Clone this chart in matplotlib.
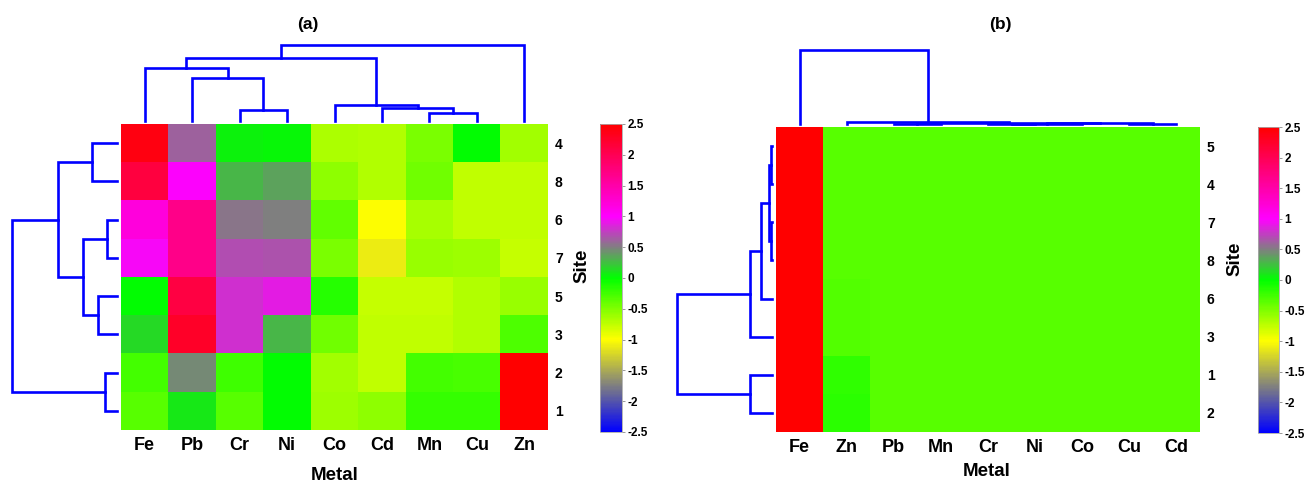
import numpy as np
import matplotlib
matplotlib.use("Agg")
import matplotlib.pyplot as plt
from matplotlib.colors import LinearSegmentedColormap

plt.rcParams['font.family'] = ['Liberation Sans', 'DejaVu Sans']
plt.rcParams['font.weight'] = 'bold'

# ---------------- data ----------------
metals_a = ["Fe", "Pb", "Cr", "Ni", "Co", "Cd", "Mn", "Cu", "Zn"]
sites_a = ["4", "8", "6", "7", "5", "3", "2", "1"]
values_a = [
    [2.40, 0.62, 0.04, 0.03, -0.67, -0.70, -0.47, 0.00, -0.63],
    [2.12, 0.98, 0.28, 0.37, -0.55, -0.69, -0.43, -0.76, -0.76],
    [1.21, 1.68, 0.53, 0.49, -0.39, -1.00, -0.65, -0.75, -0.75],
    [0.96, 1.68, 0.69, 0.67, -0.47, -1.10, -0.59, -0.61, -0.78],
    [0.00, 2.09, 0.82, 0.88, -0.15, -0.78, -0.78, -0.70, -0.59],
    [0.14, 2.26, 0.82, 0.29, -0.43, -0.76, -0.76, -0.69, -0.31],
    [-0.27, 0.45, -0.24, 0.00, -0.63, -0.75, -0.27, -0.29, 2.50],
    [-0.35, 0.08, -0.35, 0.00, -0.61, -0.55, -0.20, -0.20, 2.50],
]

metals_b = ["Fe", "Zn", "Pb", "Mn", "Cr", "Ni", "Co", "Cu", "Cd"]
sites_b = ["5", "4", "7", "8", "6", "3", "1", "2"]
values_b = [
    [2.50, -0.35, -0.35, -0.35, -0.35, -0.35, -0.35, -0.35, -0.35],
    [2.50, -0.35, -0.35, -0.35, -0.35, -0.35, -0.35, -0.35, -0.35],
    [2.50, -0.35, -0.35, -0.35, -0.35, -0.35, -0.35, -0.35, -0.35],
    [2.50, -0.34, -0.34, -0.35, -0.35, -0.35, -0.35, -0.35, -0.35],
    [2.50, -0.32, -0.34, -0.35, -0.35, -0.35, -0.35, -0.35, -0.35],
    [2.50, -0.32, -0.35, -0.35, -0.35, -0.35, -0.35, -0.35, -0.35],
    [2.50, -0.18, -0.35, -0.35, -0.35, -0.35, -0.35, -0.35, -0.35],
    [2.50, -0.17, -0.35, -0.35, -0.35, -0.35, -0.35, -0.35, -0.35],
]

# dendrogram merges: (child_a, child_b, height); new cluster id = n_leaves + index
col_merges_a = [(6, 7, 8.4), (2, 3, 10.8), (5, 9, 13.5), (4, 11, 15.8),
                (1, 10, 42.7), (0, 13, 52.8), (14, 12, 62.9), (15, 8, 76.0)]
row_merges_a = [(2, 3, 10.4), (6, 7, 12.5), (4, 5, 19.3), (0, 1, 25.0),
                (8, 10, 33.6), (11, 12, 58.6), (13, 9, 105.0)]
col_merges_b = [(4, 5, 0.3), (7, 8, 0.3), (9, 6, 0.5), (2, 3, 0.4),
                (11, 10, 0.6), (12, 13, 0.8), (1, 14, 1.8), (0, 15, 74.0)]
row_merges_b = [(0, 1, 0.8), (2, 3, 1.2), (8, 9, 3.5), (10, 4, 11.0),
                (11, 5, 22.0), (6, 7, 22.0), (12, 13, 95.0)]

cbar_ticks = [-2.5, -2, -1.5, -1, -0.5, 0, 0.5, 1, 1.5, 2, 2.5]

# ---------------- figure ----------------
W, H = 1308, 484
fig = plt.figure(figsize=(W / 100, H / 100), dpi=100)

def ax_px(x0, y0, x1, y1):
    return fig.add_axes([x0 / W, 1 - y1 / H, (x1 - x0) / W, (y1 - y0) / H])

cmap = LinearSegmentedColormap.from_list(
    "clust", [(0.0, "#0000ff"), (0.3, "#ffff00"), (0.5, "#00ff00"),
              (0.7, "#ff00ff"), (1.0, "#ff0000")])

DCOL = "#0000ff"
LW = 1.9

def draw_dendro(ax, merges, n, orient, hmax):
    pos = {i: i + 0.5 for i in range(n)}
    hgt = {i: 0.0 for i in range(n)}
    for k, (a, b, h) in enumerate(merges):
        xa, xb = pos[a], pos[b]
        if orient == "top":
            ax.plot([xa, xa, xb, xb], [hgt[a], h, h, hgt[b]], color=DCOL,
                    lw=LW, clip_on=False, solid_joinstyle='miter')
        else:
            ax.plot([hgt[a], h, h, hgt[b]], [xa, xa, xb, xb], color=DCOL,
                    lw=LW, clip_on=False, solid_joinstyle='miter')
        pos[n + k] = (xa + xb) / 2
        hgt[n + k] = h
    if orient == "top":
        ax.set_xlim(0, n)
        ax.set_ylim(0, hmax)
    else:
        ax.set_ylim(n, 0)
        ax.set_xlim(hmax, 0)
    ax.axis("off")

def panel(values, metals, sites, col_merges, row_merges, hm, top, left, cb,
          title, title_xy, site_xy, metal_xy):
    data = np.array(values)
    nr, nc = data.shape
    ax = ax_px(*hm)
    im = ax.imshow(data, cmap=cmap, vmin=-2.5, vmax=2.5, aspect="auto",
                   interpolation="nearest", extent=(0, nc, nr, 0))
    ax.set_xticks(np.arange(nc) + 0.5, metals, fontsize=13, fontweight="bold")
    ax.yaxis.tick_right()
    ax.set_yticks(np.arange(nr) + 0.5, sites, fontsize=10, fontweight="bold")
    ax.tick_params(axis="x", length=0, pad=5)
    ax.tick_params(axis="y", length=0, pad=5)
    for s in ax.spines.values():
        s.set_visible(False)

    axt = ax_px(*top)
    draw_dendro(axt, col_merges, nc, "top", col_merges[-1][2])
    axl = ax_px(*left)
    draw_dendro(axl, row_merges, nr, "left", row_merges[-1][2])

    cax = ax_px(*cb)
    cbar = fig.colorbar(im, cax=cax, ticks=cbar_ticks)
    cbar.ax.set_yticklabels([f"{t:g}" for t in cbar_ticks], fontsize=8.5,
                            fontweight="bold")
    cbar.ax.tick_params(length=2, width=0.6, color="#888888", pad=2)
    cbar.outline.set_edgecolor("#aaaaaa")
    cbar.outline.set_linewidth(0.6)

    fig.text(title_xy[0] / W, 1 - title_xy[1] / H, title, ha="center",
             va="center", fontsize=12.5, fontweight="bold")
    fig.text(site_xy[0] / W, 1 - site_xy[1] / H, "Site", ha="center",
             va="center", rotation=90, fontsize=13.5, fontweight="bold")
    fig.text(metal_xy[0] / W, 1 - metal_xy[1] / H, "Metal", ha="center",
             va="center", fontsize=13.5, fontweight="bold")

panel(values_a, metals_a, sites_a, col_merges_a, row_merges_a,
      hm=(121, 124, 548, 430), top=(121, 45, 548, 121), left=(12, 124, 117, 430),
      cb=(600, 124, 622, 432), title="(a)", title_xy=(308, 24),
      site_xy=(582, 266), metal_xy=(335, 476))

panel(values_b, metals_b, sites_b, col_merges_b, row_merges_b,
      hm=(776, 127, 1200, 432), top=(776, 50, 1200, 124), left=(677, 127, 772, 432),
      cb=(1258, 127, 1279, 433), title="(b)", title_xy=(1000, 24),
      site_xy=(1235, 259), metal_xy=(987, 471))

fig.savefig("out.png", dpi=100, facecolor="white")
